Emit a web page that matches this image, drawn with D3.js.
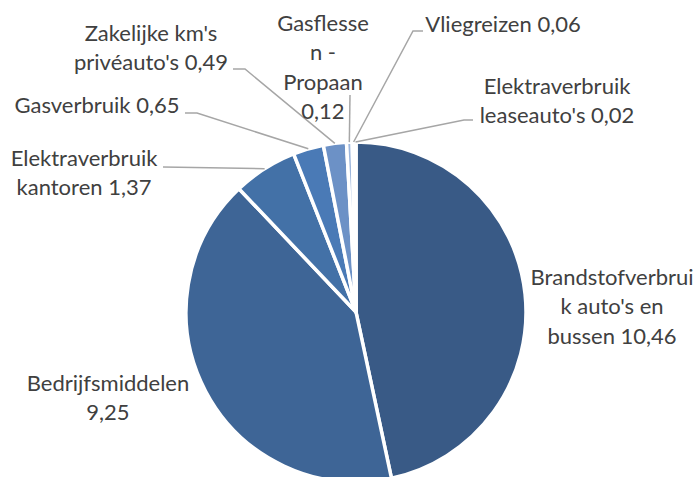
<!DOCTYPE html>
<html>
<head>
<meta charset="utf-8">
<script src="https://cdn.jsdelivr.net/npm/d3@7"></script>
<style>
  body { margin: 0; background: #fff; }
  .label { font-family: Lato, "Open Sans", sans-serif; font-size: 22px; fill: #404040; }
</style>
</head>
<body>
<svg class="chart"></svg>
<script>
// data
var categories = ["Brandstofverbruik auto's en bussen", "Bedrijfsmiddelen", "Elektraverbruik kantoren",
	"Gasverbruik", "Zakelijke km's privéauto's", "Gasflessen - Propaan", "Vliegreizen", "Elektraverbruik leaseauto's"];
var values = [10.46, 9.25, 1.37, 0.65, 0.49, 0.12, 0.06, 0.02];
var labelLines = [
	["Brandstofverbrui", "k auto's en", "bussen 10,46"],
	["Bedrijfsmiddelen", "9,25"],
	["Elektraverbruik", "kantoren 1,37"],
	["Gasverbruik 0,65"],
	["Zakelijke km's", "privéauto's 0,49"],
	["Gasflesse", "n -", "Propaan", "0,12"],
	["Vliegreizen 0,06"],
	["Elektraverbruik", "leaseauto's 0,02"]
];
var colors = ["#395a86", "#3e6596", "#4371a7", "#4a7ab6", "#6c91c6", "#9db6dc", "#bccde8", "#d6e0f1"];

// layout
var width = 700;
var height = 477;
var cx = 356, cy = 312, radius = 170;
var lineHeight = 29.5;

// label centre (first line) and leader start / elbow points
var labelPos = [
	{x: 612, y: 277},
	{x: 108, y: 383},
	{x: 84, y: 158, lead: [[163, 167]]},
	{x: 97, y: 105, lead: [[185, 113], [197, 113]]},
	{x: 151, y: 33, lead: [[233, 69], [245, 69]]},
	{x: 323, y: 23, lead: [[350, 95]]},
	{x: 503, y: 24, lead: [[423, 31], [413, 31]]},
	{x: 557, y: 86, lead: [[473, 120], [464, 120]]}
];

var svg = d3.select(".chart")
	.attr("width", width)
	.attr("height", height);

var pie = d3.pie()
	.sort(null)
	.value(function(d) { return d; });

var arcs = pie(values);

var arc = d3.arc()
	.innerRadius(0)
	.outerRadius(radius);

var edge = d3.arc()
	.innerRadius(radius)
	.outerRadius(radius);

var chart = svg.append("g")
	.attr("transform", "translate(" + cx + "," + cy + ")");

// slices
chart.selectAll(".slice")
	.data(arcs)
.enter().append("path")
	.attr("class", "slice")
	.attr("d", arc)
	.attr("fill", function(d, i) { return colors[i]; })
	.attr("stroke", "#fff")
	.attr("stroke-width", 3.5)
	.attr("stroke-linejoin", "round");

// leader lines
arcs.forEach(function(d, i) {
	var lp = labelPos[i];
	if (!lp.lead) return;
	var end = edge.centroid(d);
	var pts = lp.lead.map(function(p) { return [p[0], p[1]]; });
	pts.push([end[0] + cx, end[1] + cy]);
	svg.append("path")
		.attr("d", d3.line()(pts))
		.attr("fill", "none")
		.attr("stroke", "#a6a6a6")
		.attr("stroke-width", 1.5);
});

// labels
var labels = svg.selectAll(".label")
	.data(labelLines)
.enter().append("text")
	.attr("class", "label")
	.attr("text-anchor", "middle");

labels.each(function(lines, i) {
	var t = d3.select(this);
	lines.forEach(function(line, j) {
		t.append("tspan")
			.attr("x", labelPos[i].x)
			.attr("y", labelPos[i].y + j * lineHeight)
			.attr("dy", "0.35em")
			.text(line);
	});
});
</script>
</body>
</html>
